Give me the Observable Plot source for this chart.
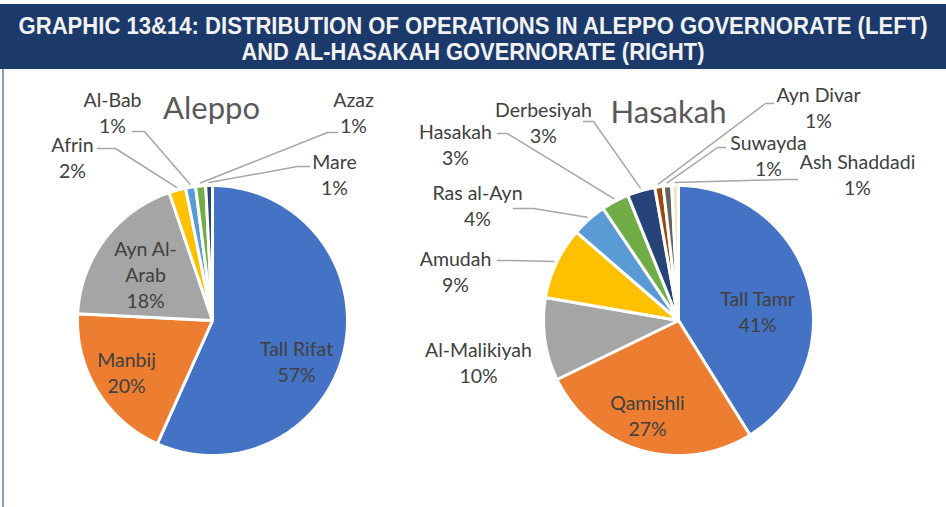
<!DOCTYPE html>
<html><head><meta charset="utf-8">
<script src="https://cdn.jsdelivr.net/npm/d3@7"></script>
<script src="https://cdn.jsdelivr.net/npm/@observablehq/plot@0.6"></script>
<style>
body{margin:0;background:#fff;}
#wrap{position:relative;width:946px;height:507px;overflow:hidden;background:#fff;}
#hdr{position:absolute;left:0;top:4px;width:946px;height:65px;background:#1b3a6b;color:#f2f2f2;
 font-family:"Liberation Sans Narrow","Arial Narrow","Liberation Sans",sans-serif;font-weight:bold;font-size:24px;
 line-height:26px;overflow:hidden;}
#hdr span{position:absolute;left:50%;white-space:nowrap;transform-origin:50% 50%;transform:translateX(-50%);}
#h1{top:9px;} #h2{top:35px;}
#border{position:absolute;left:2px;top:69px;width:2px;height:438px;background:#8a9dbb;}
#chart{position:absolute;left:0;top:71px;}
</style></head>
<body><div id="wrap">
<div id="hdr"><span id="h1">GRAPHIC 13&amp;14: DISTRIBUTION OF OPERATIONS IN ALEPPO GOVERNORATE (LEFT)</span><span id="h2">AND AL-HASAKAH GOVERNORATE (RIGHT)</span></div>
<div id="border"></div>
<div id="chart"></div>
</div>
<script>
// ---- data ----
const aleppoNames  = ["Tall Rifat","Manbij","Ayn Al-\nArab","Afrin","Al-Bab","Azaz","Mare"];
const aleppoValues = [56.7, 19.1, 19.0, 2.0, 1.2, 1.2, 0.8];
const aleppoLabels = ["57%","20%","18%","2%","1%","1%","1%"];

const hasakahNames  = ["Tall Tamr","Qamishli","Al-Malikiyah","Amudah","Ras al-Ayn","Hasakah","Derbesiyah","Ayn Divar","Suwayda","Ash Shaddadi"];
const hasakahValues = [41.0, 26.6, 9.9, 8.6, 4.2, 3.3, 3.3, 1.0, 1.0, 0.8];
const hasakahLabels = ["41%","27%","10%","9%","4%","3%","3%","1%","1%","1%"];

// ---- styles / layout ----
const palette = ["#4472C4","#ED7D31","#A5A5A5","#FFC000","#5B9BD5","#70AD47","#264478","#9E480E","#636363","#EFE6C6"];
const R = 135;
const aleppoCenter = [212, 320];
const hasakahCenter = [678, 320];
// label block centres (page coords)
const aleppoLabelPos = [[296,360],[126,371],[145,273],[72,156],[112,111],[353,111],[334,173]];
const hasakahLabelPos = [[757,310],[647,414],[478,361],[455,270],[477,204],[455,143],[543,121],[818,106],[768,154],[857,173]];
// leader lines: [labelEnd, elbow] (null = inside label)
const aleppoLeaders = [null,null,null,[[97,148],[115,148]],[[132,131],[144,131]],[[337,132],[327,132]],[[309,166],[297,166]]];
const hasakahLeaders = [null,null,null,[[497,260],[510,260]],[[513,208],[533,208]],[[497,133],[507,133]],[[583,121],[593,121]],[[773,103],[765,103]],[[725,147],[717,147]],[[797,179],[785,179]]];

const pie = d3.pie().sort(null).value(d => d);

function build(names, values, labels, center, labelPos, leaders) {
  const arcs = pie(values);
  const slices = [], texts = [], lines = [];
  arcs.forEach((a, i) => {
    const [cx, cy] = center;
    slices.push({k: names[i], x: cx, y: cy, c: palette[i]});
    const n = Math.max(2, Math.ceil((a.endAngle - a.startAngle) / 0.01));
    for (let j = 0; j <= n; j++) {
      const t = a.startAngle + (a.endAngle - a.startAngle) * j / n;
      slices.push({k: names[i], x: cx + R * Math.sin(t), y: cy - R * Math.cos(t), c: palette[i]});
    }
    texts.push({x: labelPos[i][0], y: labelPos[i][1], t: names[i] + "\n" + labels[i]});
    if (leaders[i]) {
      const m = (a.startAngle + a.endAngle) / 2;
      const pts = [leaders[i][0], leaders[i][1], [cx + (R + 3) * Math.sin(m), cy - (R + 3) * Math.cos(m)]];
      pts.forEach(p => lines.push({k: names[i], x: p[0], y: p[1]}));
    }
  });
  return {slices, texts, lines};
}

const A = build(aleppoNames, aleppoValues, aleppoLabels, aleppoCenter, aleppoLabelPos, aleppoLeaders);
const H = build(hasakahNames, hasakahValues, hasakahLabels, hasakahCenter, hasakahLabelPos, hasakahLeaders);
const slices = A.slices.map(d => ({...d, g: "A"})).concat(H.slices.map(d => ({...d, g: "H"})));
const texts = A.texts.concat(H.texts);
const lines = A.lines.map(d => ({...d, g: "A"})).concat(H.lines.map(d => ({...d, g: "H"})));
const titles = [{x: 211, y: 109, t: "Aleppo"}, {x: 668, y: 113, t: "Hasakah"}];

const font = "Lato, 'Open Sans', sans-serif";
const chart = Plot.plot({
  width: 946, height: 436, margin: 0,
  x: {domain: [0, 946], range: [0, 946], axis: null},
  y: {domain: [71, 507], range: [0, 436], axis: null},
  color: {type: "identity"},
  style: {background: "transparent"},
  marks: [
    Plot.line(lines, {x: "x", y: "y", z: d => d.g + d.k, stroke: "#A6A6A6", strokeWidth: 1.5, curve: "linear"}),
    Plot.line(slices, {x: "x", y: "y", z: d => d.g + d.k, fill: "c", stroke: "white", strokeWidth: 3, strokeLinejoin: "miter", curve: "linear-closed"}),
    Plot.text(texts, {x: "x", y: "y", text: "t", fontSize: 19.5, lineHeight: 1.35, fill: "#404040", fontFamily: font}),
    Plot.text(titles, {x: "x", y: "y", text: "t", fontSize: 31, fill: "#595959", fontFamily: font})
  ]
});
document.getElementById("chart").appendChild(chart);

// fit header lines to the reference widths
function fit(id, target) {
  const el = document.getElementById(id);
  const w = el.getBoundingClientRect().width;
  if (w > 0) el.style.transform = "translateX(-50%) scaleX(" + (target / w) + ")";
}
fit("h1", 909);
fit("h2", 463);
</script>
</body></html>
